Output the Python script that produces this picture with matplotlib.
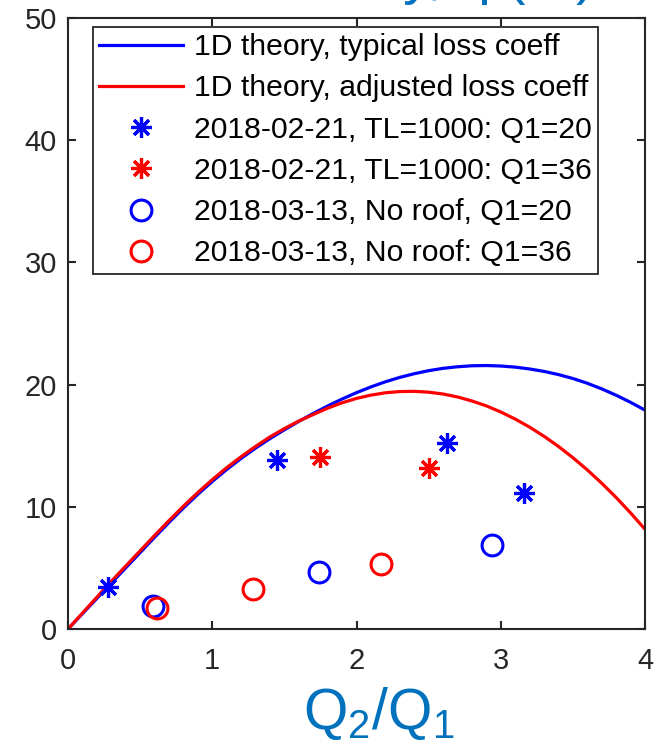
import numpy as np
import matplotlib
matplotlib.use("Agg")
import matplotlib.pyplot as plt

plt.rcParams['font.family'] = ['Liberation Sans', 'DejaVu Sans']
plt.rcParams['mathtext.fontset'] = 'custom'
plt.rcParams['mathtext.rm'] = 'Liberation Sans'
plt.rcParams['mathtext.it'] = 'Liberation Sans'
plt.rcParams['mathtext.default'] = 'regular'

# ---- data ----
theory_x = [0.0, 0.1, 0.2, 0.3, 0.4, 0.5, 0.6, 0.7, 0.8, 0.9, 1.0,
            1.1, 1.2, 1.3, 1.4, 1.5, 1.6, 1.7, 1.8, 1.9, 2.0,
            2.1, 2.2, 2.3, 2.4, 2.5, 2.6, 2.7, 2.8, 2.9, 3.0,
            3.1, 3.2, 3.3, 3.4, 3.5, 3.6, 3.7, 3.8, 3.9, 4.0]
theory_typical = [0.0, 1.25, 2.5, 3.75, 5.0, 6.25, 7.5, 8.72, 9.90, 11.02, 12.07,
                  13.05, 13.96, 14.80, 15.58, 16.30, 16.99, 17.64, 18.25, 18.82, 19.34,
                  19.81, 20.23, 20.59, 20.89, 21.14, 21.33, 21.46, 21.54, 21.56, 21.52,
                  21.43, 21.28, 21.08, 20.82, 20.50, 20.11, 19.65, 19.13, 18.55, 17.91]
theory_adjusted = [0.0, 1.3, 2.6, 3.9, 5.15, 6.4, 7.65, 8.87, 10.05, 11.17, 12.22,
                   13.2, 14.1, 14.94, 15.72, 16.4, 17.02, 17.55, 18.07, 18.51, 18.87,
                   19.14, 19.33, 19.43, 19.45, 19.38, 19.23, 18.99, 18.66, 18.26, 17.76,
                   17.18, 16.52, 15.77, 14.94, 14.02, 13.02, 11.93, 10.76, 9.50, 8.16]

tl_q20_x = [0.28, 1.45, 2.63, 3.16]
tl_q20_y = [3.4, 13.8, 15.2, 11.1]
tl_q36_x = [1.75, 2.50]
tl_q36_y = [14.1, 13.2]

nr_q20_x = [0.59, 1.74, 2.94]
nr_q20_y = [1.9, 4.7, 6.9]
nr_q36_x = [0.62, 1.28, 2.17]
nr_q36_y = [1.7, 3.3, 5.3]

labels = ["1D theory, typical loss coeff",
          "1D theory, adjusted loss coeff",
          "2018-02-21, TL=1000: Q1=20",
          "2018-02-21, TL=1000: Q1=36",
          "2018-03-13, No roof, Q1=20",
          "2018-03-13, No roof: Q1=36"]

xticks = [0, 1, 2, 3, 4]
yticks = [0, 10, 20, 30, 40, 50]

# ---- figure ----
W, H = 662, 746
fig = plt.figure(figsize=(W / 100, H / 100), dpi=100)
ax = fig.add_axes([68 / W, 1 - 629 / H, (645 - 68) / W, (629 - 18) / H])

ast = (8, 2, 0)
ax.plot(theory_x, theory_typical, color='#0000FF', lw=2.3, label=labels[0])
ax.plot(theory_x, theory_adjusted, color='#FF0000', lw=2.3, label=labels[1])
ax.plot(tl_q20_x, tl_q20_y, ls='none', marker=ast, ms=15, mew=2.3,
        color='#0000FF', label=labels[2])
ax.plot(tl_q36_x, tl_q36_y, ls='none', marker=ast, ms=15, mew=2.3,
        color='#FF0000', label=labels[3])
ax.plot(nr_q20_x, nr_q20_y, ls='none', marker='o', ms=15, mew=2.2,
        mfc='none', mec='#0000FF', label=labels[4])
ax.plot(nr_q36_x, nr_q36_y, ls='none', marker='o', ms=15, mew=2.2,
        mfc='none', mec='#FF0000', label=labels[5])

ax.set_xlim(0, 4)
ax.set_ylim(0, 50)
ax.set_xticks(xticks)
ax.set_yticks(yticks)
ax.tick_params(direction='in', length=6, width=1.5, colors='#262626',
               labelsize=21, top=True, right=True, pad=8)
ax.tick_params(axis='x', pad=13)
for s in ax.spines.values():
    s.set_color('#262626')
    s.set_linewidth(1.5)

ax.set_xlabel('Q$_2$/Q$_1$', fontsize=41, color='#0072BD')
ax.xaxis.set_label_coords(0.539, -0.092)
ax.xaxis.label.set_va('top')

fig.text(595 / W, 1 + 7 / H, 'Efficiency, η (%)', fontsize=41, color='#0072BD',
         ha='right', va='baseline')

leg = ax.legend(loc='upper left', bbox_to_anchor=(0.0433, 0.985),
                borderaxespad=0, fontsize=21.7, numpoints=1,
                handlelength=2.8, handletextpad=0.35, borderpad=0.2,
                labelspacing=0.44, fancybox=False, framealpha=1)
leg.get_frame().set_edgecolor('#262626')
leg.get_frame().set_linewidth(1.3)

fig.savefig('out.png', dpi=100)
